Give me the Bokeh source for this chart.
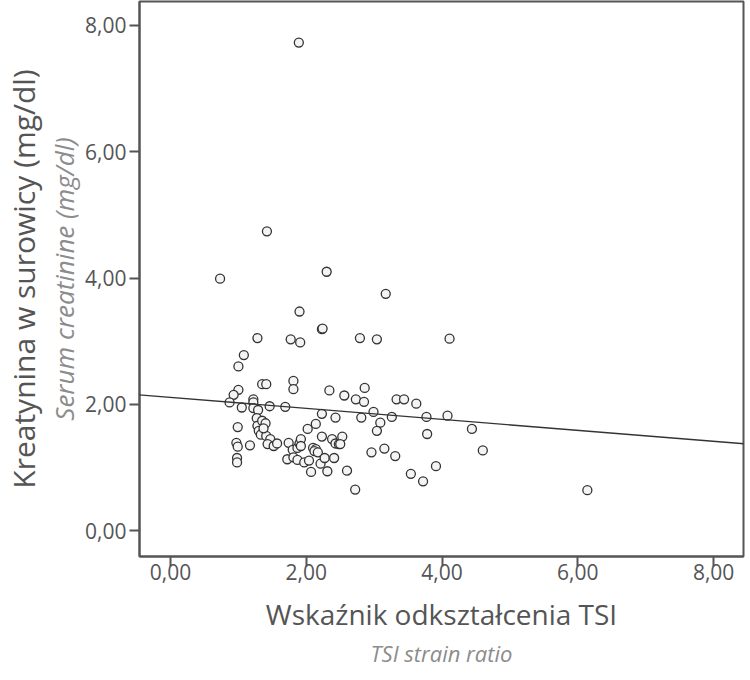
from bokeh.plotting import figure
from bokeh.models import FixedTicker, CustomJSTickFormatter, Title, Slope, Range1d
from bokeh.embed import file_html
from bokeh.resources import INLINE

# TSI strain ratio (x) and serum creatinine mg/dl (y)
tsi = [1.89, 1.42, 0.73, 2.30, 3.17, 1.90, 2.23, 2.24, 1.28, 1.77, 1.91, 2.79, 3.04, 4.11,
       1.08, 1.00, 1.35, 1.41, 1.81, 1.81, 2.34, 2.86, 2.56, 2.73, 2.85, 3.33, 3.44, 3.62,
       1.00, 0.93, 0.87, 1.05, 1.22, 1.22, 1.22, 1.29, 1.46, 1.69, 2.23, 2.43, 2.81, 2.99,
       3.26, 3.77, 4.08, 3.09, 3.04, 3.78, 4.44, 4.60, 0.99,
       1.27, 1.28, 1.35, 1.40, 1.30, 1.36, 1.33, 1.41, 1.47, 1.43, 1.52, 1.57, 1.37,
       0.97, 0.99, 1.17, 0.98, 0.98,
       1.74, 1.80, 1.87, 1.90, 1.92, 1.92,
       1.72, 1.81, 1.87, 1.97, 2.04, 2.07,
       2.10, 2.14, 2.12, 2.17, 2.21, 2.27, 2.31, 2.41,
       2.02, 2.14, 2.23, 2.38, 2.43, 2.48, 2.53, 2.50,
       2.60, 2.72, 2.96, 3.15, 3.31, 3.54, 3.72, 3.91, 6.14]
creat = [7.73, 4.74, 3.99, 4.10, 3.75, 3.47, 3.19, 3.20, 3.05, 3.03, 2.98, 3.05, 3.03, 3.04,
         2.78, 2.60, 2.32, 2.32, 2.37, 2.24, 2.22, 2.26, 2.14, 2.08, 2.04, 2.08, 2.08, 2.01,
         2.23, 2.15, 2.03, 1.95, 2.08, 2.03, 1.94, 1.91, 1.97, 1.96, 1.85, 1.79, 1.79, 1.88,
         1.80, 1.80, 1.82, 1.71, 1.58, 1.53, 1.61, 1.27, 1.64,
         1.78, 1.66, 1.74, 1.70, 1.58, 1.55, 1.52, 1.50, 1.45, 1.37, 1.34, 1.38, 1.62,
         1.39, 1.33, 1.35, 1.15, 1.08,
         1.39, 1.28, 1.31, 1.38, 1.45, 1.34,
         1.13, 1.16, 1.12, 1.08, 1.11, 0.93,
         1.31, 1.29, 1.26, 1.24, 1.06, 1.15, 0.94, 1.15,
         1.61, 1.69, 1.49, 1.45, 1.38, 1.37, 1.49, 1.37,
         0.95, 0.65, 1.24, 1.30, 1.18, 0.90, 0.78, 1.02, 0.64]

# linear fit line
fit_intercept = 2.11
fit_slope = -0.087

tick_values = [0, 2, 4, 6, 8]

x_title = "Wskaźnik odkształcenia TSI"
x_subtitle = "TSI strain ratio"
y_title = "Kreatynina w surowicy (mg/dl)"
y_subtitle = "Serum creatinine (mg/dl)"

FONT = "Open Sans"
GRAY = "#555555"
LIGHT = "#8c8c8c"

p = figure(frame_width=604, frame_height=555, output_backend="svg", toolbar_location=None,
           x_range=Range1d(-0.457, 8.44), y_range=Range1d(-0.41, 8.38),
           min_border_left=131, min_border_right=7, min_border_top=1, min_border_bottom=108)

p.xgrid.visible = False
p.ygrid.visible = False
p.outline_line_color = GRAY
p.outline_line_width = 2
p.background_fill_color = "white"
p.border_fill_color = "white"

fmt = CustomJSTickFormatter(code="return tick.toFixed(2).replace('.', ',');")
for ax in (p.xaxis[0], p.yaxis[0]):
    ax.ticker = FixedTicker(ticks=tick_values)
    ax.formatter = fmt
    ax.axis_line_color = GRAY
    ax.axis_line_width = 2
    ax.major_tick_line_color = GRAY
    ax.major_tick_line_width = 2
    ax.major_tick_in = 0
    ax.major_tick_out = 10
    ax.minor_tick_line_color = None
    ax.major_label_text_font = FONT
    ax.major_label_text_font_size = "21px"
    ax.major_label_text_color = GRAY

p.xaxis.major_label_standoff = -3
p.yaxis.major_label_standoff = 3

p.xaxis.axis_label = x_title
p.xaxis.axis_label_text_font = FONT
p.xaxis.axis_label_text_font_size = "28px"
p.xaxis.axis_label_text_font_style = "normal"
p.xaxis.axis_label_text_color = GRAY
p.xaxis.axis_label_standoff = 12

p.yaxis.axis_label = y_subtitle
p.yaxis.axis_label_text_font = FONT
p.yaxis.axis_label_text_font_size = "26px"
p.yaxis.axis_label_text_font_style = "italic"
p.yaxis.axis_label_text_color = LIGHT
p.yaxis.axis_label_standoff = 0

p.add_layout(Title(text=x_subtitle, align="center", text_font=FONT, text_font_size="22px",
                   text_font_style="italic", text_color=LIGHT, standoff=0), "below")
p.add_layout(Title(text=y_title, align="center", text_font=FONT, text_font_size="30px",
                   text_font_style="normal", text_color=GRAY, standoff=0), "left")

p.add_layout(Slope(gradient=fit_slope, y_intercept=fit_intercept,
                   line_color="#333333", line_width=1.4))

p.scatter(tsi, creat, marker="circle", size=9, fill_color="#f4f4f4",
          line_color="#333333", line_width=1.3)

open("out.html", "w").write(file_html(p, INLINE))
